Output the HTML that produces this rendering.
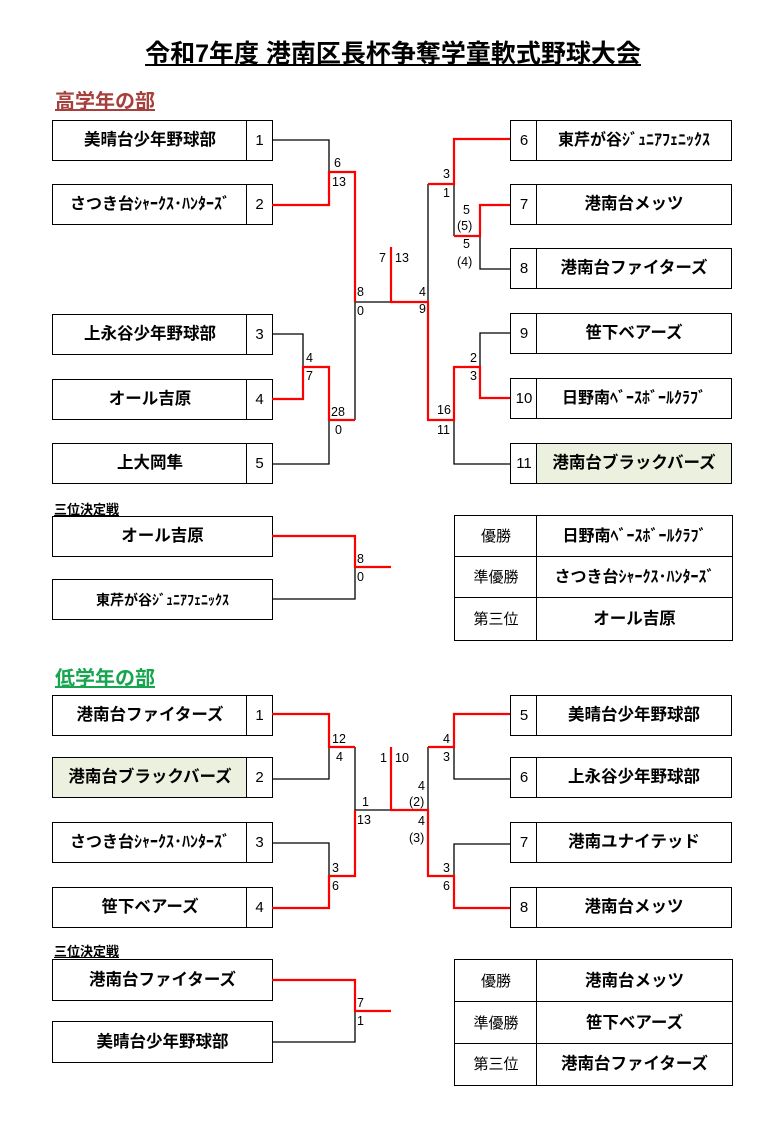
<!DOCTYPE html>
<html><head><meta charset="utf-8"><style>
body{margin:0;background:#fff;}
#c{position:relative;width:766px;height:1124px;overflow:hidden;font-family:"Liberation Sans","Noto Sans CJK JP",sans-serif;color:#000;}
.t{position:absolute;white-space:nowrap;}
.b{position:absolute;border:1.5px solid #000;box-sizing:border-box;display:flex;align-items:center;justify-content:center;font-weight:bold;font-size:16.5px;line-height:1;background:#fff;}
.g{background:#ebf1de;}
.n{font-weight:normal;font-size:15px;}
.s{position:absolute;font-size:12.5px;line-height:14px;white-space:nowrap;}
svg{position:absolute;left:0;top:0;}
</style></head><body><div id="c">
<div class="t" style="left:10px;width:766px;text-align:center;top:34px;font-size:25px;font-weight:bold;text-decoration:underline;">令和7年度 港南区長杯争奪学童軟式野球大会</div>
<div class="t" style="left:55px;top:85px;font-size:20px;font-weight:bold;color:#a5403c;text-decoration:underline;">高学年の部</div>
<div class="t" style="left:55px;top:662px;font-size:20px;font-weight:bold;color:#17a550;text-decoration:underline;">低学年の部</div>
<div class="t" style="left:54px;top:499px;font-size:13px;font-weight:bold;text-decoration:underline;">三位決定戦</div>
<div class="t" style="left:54px;top:941px;font-size:13px;font-weight:bold;text-decoration:underline;">三位決定戦</div>

<div class="b" style="left:52px;top:120px;width:196px;height:41px;">美晴台少年野球部</div><div class="b n" style="left:246px;top:120px;width:27px;height:41px;">1</div>
<div class="b" style="left:52px;top:184px;width:196px;height:41px;font-size:16px;">さつき台ｼｬｰｸｽ･ﾊﾝﾀｰｽﾞ</div><div class="b n" style="left:246px;top:184px;width:27px;height:41px;">2</div>
<div class="b" style="left:52px;top:314px;width:196px;height:41px;">上永谷少年野球部</div><div class="b n" style="left:246px;top:314px;width:27px;height:41px;">3</div>
<div class="b" style="left:52px;top:379px;width:196px;height:41px;">オール吉原</div><div class="b n" style="left:246px;top:379px;width:27px;height:41px;">4</div>
<div class="b" style="left:52px;top:443px;width:196px;height:41px;">上大岡隼</div><div class="b n" style="left:246px;top:443px;width:27px;height:41px;">5</div>

<div class="b n" style="left:510px;top:120px;width:28px;height:41px;">6</div><div class="b" style="left:536px;top:120px;width:196px;height:41px;font-size:16px;">東芹が谷ｼﾞｭﾆｱﾌｪﾆｯｸｽ</div>
<div class="b n" style="left:510px;top:184px;width:28px;height:41px;">7</div><div class="b" style="left:536px;top:184px;width:196px;height:41px;">港南台メッツ</div>
<div class="b n" style="left:510px;top:248px;width:28px;height:41px;">8</div><div class="b" style="left:536px;top:248px;width:196px;height:41px;">港南台ファイターズ</div>
<div class="b n" style="left:510px;top:313px;width:28px;height:41px;">9</div><div class="b" style="left:536px;top:313px;width:196px;height:41px;">笹下ベアーズ</div>
<div class="b n" style="left:510px;top:378px;width:28px;height:41px;">10</div><div class="b" style="left:536px;top:378px;width:196px;height:41px;font-size:16px;">日野南ﾍﾞｰｽﾎﾞｰﾙｸﾗﾌﾞ</div>
<div class="b n" style="left:510px;top:443px;width:28px;height:41px;">11</div><div class="b g" style="left:536px;top:443px;width:196px;height:41px;">港南台ブラックバーズ</div>

<div class="b" style="left:52px;top:516px;width:221px;height:41px;">オール吉原</div>
<div class="b" style="left:52px;top:579px;width:221px;height:41px;font-size:14px;">東芹が谷ｼﾞｭﾆｱﾌｪﾆｯｸｽ</div>

<div class="b n" style="left:454px;top:515px;width:84px;height:43px;">優勝</div><div class="b" style="left:536px;top:515px;width:197px;height:43px;font-size:16px;">日野南ﾍﾞｰｽﾎﾞｰﾙｸﾗﾌﾞ</div>
<div class="b n" style="left:454px;top:556px;width:84px;height:43px;">準優勝</div><div class="b" style="left:536px;top:556px;width:197px;height:43px;font-size:16px;">さつき台ｼｬｰｸｽ･ﾊﾝﾀｰｽﾞ</div>
<div class="b n" style="left:454px;top:597px;width:84px;height:44px;">第三位</div><div class="b" style="left:536px;top:597px;width:197px;height:44px;">オール吉原</div>

<div class="b" style="left:52px;top:695px;width:196px;height:41px;">港南台ファイターズ</div><div class="b n" style="left:246px;top:695px;width:27px;height:41px;">1</div>
<div class="b g" style="left:52px;top:757px;width:196px;height:41px;">港南台ブラックバーズ</div><div class="b n" style="left:246px;top:757px;width:27px;height:41px;">2</div>
<div class="b" style="left:52px;top:822px;width:196px;height:41px;font-size:16px;">さつき台ｼｬｰｸｽ･ﾊﾝﾀｰｽﾞ</div><div class="b n" style="left:246px;top:822px;width:27px;height:41px;">3</div>
<div class="b" style="left:52px;top:887px;width:196px;height:41px;">笹下ベアーズ</div><div class="b n" style="left:246px;top:887px;width:27px;height:41px;">4</div>

<div class="b n" style="left:510px;top:695px;width:28px;height:41px;">5</div><div class="b" style="left:536px;top:695px;width:196px;height:41px;">美晴台少年野球部</div>
<div class="b n" style="left:510px;top:757px;width:28px;height:41px;">6</div><div class="b" style="left:536px;top:757px;width:196px;height:41px;">上永谷少年野球部</div>
<div class="b n" style="left:510px;top:822px;width:28px;height:41px;">7</div><div class="b" style="left:536px;top:822px;width:196px;height:41px;">港南ユナイテッド</div>
<div class="b n" style="left:510px;top:887px;width:28px;height:41px;">8</div><div class="b" style="left:536px;top:887px;width:196px;height:41px;">港南台メッツ</div>

<div class="b" style="left:52px;top:959px;width:221px;height:42px;">港南台ファイターズ</div>
<div class="b" style="left:52px;top:1021px;width:221px;height:42px;">美晴台少年野球部</div>

<div class="b n" style="left:454px;top:959px;width:84px;height:44px;">優勝</div><div class="b" style="left:536px;top:959px;width:197px;height:44px;">港南台メッツ</div>
<div class="b n" style="left:454px;top:1001px;width:84px;height:44px;">準優勝</div><div class="b" style="left:536px;top:1001px;width:197px;height:44px;">笹下ベアーズ</div>
<div class="b n" style="left:454px;top:1043px;width:84px;height:43px;">第三位</div><div class="b" style="left:536px;top:1043px;width:197px;height:43px;">港南台ファイターズ</div>

<svg width="766" height="1124" fill="none" stroke-linejoin="miter">
<g stroke="#000" stroke-width="1.3">
<polyline points="272,140 329,140 329,172"/>
<polyline points="355,172 355,420"/>
<polyline points="355,302 391,302"/>
<polyline points="428,184 428,302"/>
<polyline points="454,184 454,236"/>
<polyline points="480,236 480,269 510,269"/>
<polyline points="510,333 480,333 480,367"/>
<polyline points="454,420 454,464 510,464"/>
<polyline points="272,334 303,334 303,367"/>
<polyline points="329,420 329,464 272,464"/>
<polyline points="355,567 355,599 272,599"/>
<polyline points="272,779 329,779 329,747"/>
<polyline points="355,747 355,810 391,810"/>
<polyline points="428,747 428,810"/>
<polyline points="454,747 454,779 510,779"/>
<polyline points="510,844 454,844 454,876"/>
<polyline points="272,843 329,843 329,876"/>
<polyline points="355,1011 355,1042 272,1042"/>
</g>
<g stroke="#f00" stroke-width="2.2">
<polyline points="272,205 329,205 329,172 355,172 355,302"/>
<polyline points="391,247 391,302 428,302 428,420 454,420 454,367 480,367 480,398 510,398"/>
<polyline points="428,184 454,184 454,139 510,139"/>
<polyline points="454,236 480,236 480,205 510,205"/>
<polyline points="272,399 303,399 303,367 329,367 329,420 355,420"/>
<polyline points="272,536 355,536 355,567 391,567"/>
<polyline points="272,714 329,714 329,747 355,747"/>
<polyline points="391,747 391,810 428,810 428,876 454,876 454,908 510,908"/>
<polyline points="428,747 454,747 454,714 510,714"/>
<polyline points="272,908 329,908 329,876 355,876 355,810"/>
<polyline points="272,980 355,980 355,1011 391,1011"/>
</g>
</svg>
<div class="s" style="left:334px;top:156px;">6</div><div class="s" style="left:332px;top:175px;">13</div>
<div class="s" style="left:357px;top:285px;">8</div><div class="s" style="left:357px;top:304px;">0</div>
<div class="s" style="left:379px;top:251px;">7</div><div class="s" style="left:395px;top:251px;">13</div>
<div class="s" style="left:419px;top:285px;">4</div><div class="s" style="left:419px;top:302px;">9</div>
<div class="s" style="left:443px;top:167px;">3</div><div class="s" style="left:443px;top:186px;">1</div>
<div class="s" style="left:463px;top:203px;">5</div><div class="s" style="left:457px;top:219px;">(5)</div>
<div class="s" style="left:463px;top:237px;">5</div><div class="s" style="left:457px;top:255px;">(4)</div>
<div class="s" style="left:470px;top:351px;">2</div><div class="s" style="left:470px;top:369px;">3</div>
<div class="s" style="left:437px;top:403px;">16</div><div class="s" style="left:437px;top:423px;">11</div>
<div class="s" style="left:306px;top:351px;">4</div><div class="s" style="left:306px;top:369px;">7</div>
<div class="s" style="left:331px;top:405px;">28</div><div class="s" style="left:335px;top:423px;">0</div>
<div class="s" style="left:357px;top:552px;">8</div><div class="s" style="left:357px;top:570px;">0</div>
<div class="s" style="left:332px;top:732px;">12</div><div class="s" style="left:336px;top:750px;">4</div>
<div class="s" style="left:362px;top:795px;">1</div><div class="s" style="left:357px;top:813px;">13</div>
<div class="s" style="left:380px;top:751px;">1</div><div class="s" style="left:395px;top:751px;">10</div>
<div class="s" style="left:418px;top:779px;">4</div><div class="s" style="left:409px;top:795px;">(2)</div>
<div class="s" style="left:418px;top:814px;">4</div><div class="s" style="left:409px;top:831px;">(3)</div>
<div class="s" style="left:443px;top:732px;">4</div><div class="s" style="left:443px;top:750px;">3</div>
<div class="s" style="left:443px;top:861px;">3</div><div class="s" style="left:443px;top:879px;">6</div>
<div class="s" style="left:332px;top:861px;">3</div><div class="s" style="left:332px;top:879px;">6</div>
<div class="s" style="left:357px;top:996px;">7</div><div class="s" style="left:357px;top:1014px;">1</div>
</div></body></html>
